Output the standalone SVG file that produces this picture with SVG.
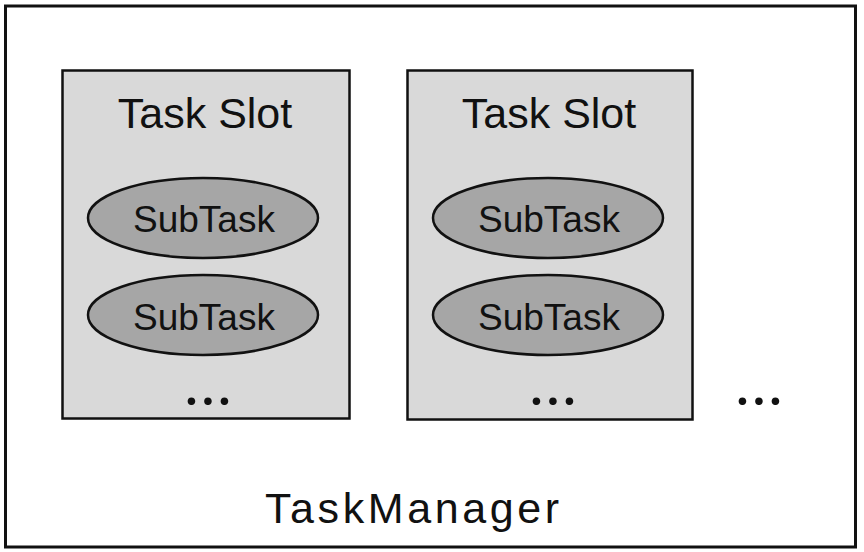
<svg xmlns="http://www.w3.org/2000/svg" width="864" height="552" viewBox="0 0 864 552">
<style>
.outer{fill:#ffffff;stroke:#111;stroke-width:3}
.slot{fill:#d9d9d9;stroke:#111;stroke-width:2.5}
.sub{fill:#a6a6a6;stroke:#111;stroke-width:2.5}
text{font-family:"Liberation Sans",Arial,sans-serif;fill:#111;text-anchor:middle}
.t1{font-size:43px}
.t2{font-size:37px}
.dots{font-family:Lato,"Open Sans",sans-serif;font-size:50px;font-weight:bold}
</style>
<rect width="864" height="552" fill="#ffffff"/>
<g id="taskmanager">
<rect class="outer" x="5.5" y="6" width="850" height="541"/>
<text class="t1" x="412" y="523" textLength="294" lengthAdjust="spacing">TaskManager</text>
<text class="dots" x="759" y="405" textLength="45" lengthAdjust="spacing">...</text>
</g>
<g id="slot1">
<rect class="slot" x="62.5" y="70.5" width="287" height="348"/>
<text class="t1" x="205" y="128">Task Slot</text>
</g>
<g id="slot1-sub1">
<ellipse class="sub" cx="203" cy="218" rx="115" ry="40"/>
<text class="t2" x="204" y="232">SubTask</text>
</g>
<g id="slot1-sub2">
<ellipse class="sub" cx="203" cy="315" rx="115" ry="40"/>
<text class="t2" x="204" y="330">SubTask</text>
</g>
<text class="dots" x="208" y="405" textLength="45" lengthAdjust="spacing">...</text>
<g id="slot2">
<rect class="slot" x="407.5" y="70.5" width="285" height="349"/>
<text class="t1" x="549" y="128">Task Slot</text>
</g>
<g id="slot2-sub1">
<ellipse class="sub" cx="548" cy="218" rx="115" ry="40"/>
<text class="t2" x="549" y="232">SubTask</text>
</g>
<g id="slot2-sub2">
<ellipse class="sub" cx="548" cy="315" rx="115" ry="40"/>
<text class="t2" x="549" y="330">SubTask</text>
</g>
<text class="dots" x="553" y="405" textLength="45" lengthAdjust="spacing">...</text>
<g id="connectors"></g>
</svg>
